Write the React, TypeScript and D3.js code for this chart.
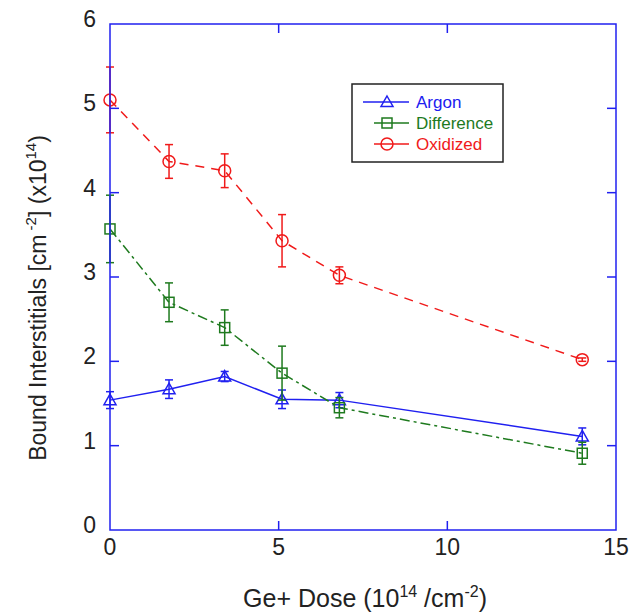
import * as d3 from 'd3'

// doses (10^14 /cm^2)
const doses = [0, 1.75, 3.4, 5.1, 6.8, 14]

const argon = [1.54, 1.67, 1.82, 1.55, 1.54, 1.11]
const argonErr = [0.1, 0.11, 0.06, 0.11, 0.09, 0.1]

const difference = [3.57, 2.7, 2.4, 1.86, 1.45, 0.91]
const differenceErr = [0.4, 0.23, 0.21, 0.32, 0.12, 0.13]

const oxidized = [5.1, 4.37, 4.26, 3.43, 3.02, 2.02]
const oxidizedErr = [0.39, 0.2, 0.2, 0.31, 0.1, 0.02]

const xTicks = [0, 5, 10, 15]
const yTicks = [0, 1, 2, 3, 4, 5, 6]

const BLUE = '#2020f0'
const GREEN = '#1e7a1e'
const RED = '#f01a1a'
const FONT = 'Liberation Sans, Arial, sans-serif'

type Series = {
  name: string
  values: number[]
  errors: number[]
  color: string
  dash: string
  marker: 'triangle' | 'square' | 'circle'
}

const series: Series[] = [
  { name: 'Argon', values: argon, errors: argonErr, color: BLUE, dash: 'none', marker: 'triangle' },
  { name: 'Difference', values: difference, errors: differenceErr, color: GREEN, dash: '10,4,3,4', marker: 'square' },
  { name: 'Oxidized', values: oxidized, errors: oxidizedErr, color: RED, dash: '9,7', marker: 'circle' },
]

function Marker({ kind, x, y, color }: { kind: string; x: number; y: number; color: string }) {
  if (kind === 'circle') return <circle cx={x} cy={y} r={6} fill="none" stroke={color} strokeWidth={1.5} />
  if (kind === 'square') return <rect x={x - 5} y={y - 5} width={10} height={10} fill="none" stroke={color} strokeWidth={1.5} />
  return <path d={`M${x},${y - 6} L${x + 6},${y + 4.5} L${x - 6},${y + 4.5} Z`} fill="none" stroke={color} strokeWidth={1.5} />
}

export default function App() {
  const width = 632
  const height = 615
  const m = { left: 110, top: 24, right: 616, bottom: 530 }

  const x = d3.scaleLinear().domain([0, 15]).range([m.left, m.right])
  const y = d3.scaleLinear().domain([0, 6]).range([m.bottom, m.top])

  const line = d3
    .line<number>()
    .x((_, i) => x(doses[i]))
    .y((d) => y(d))

  const tickLen = 9

  return (
    <svg width={width} height={height} style={{ position: 'absolute', left: 0, top: 0, background: '#fff' }} fontFamily={FONT}>
      {/* data */}
      {series.map((s) => (
        <g key={s.name}>
          <path d={line(s.values) || ''} fill="none" stroke={s.color} strokeWidth={1.5} strokeDasharray={s.dash} />
          {s.values.map((v, i) => {
            const cx = x(doses[i])
            const e = s.errors[i]
            return (
              <g key={i} stroke={s.color} strokeWidth={1.5}>
                <line x1={cx} x2={cx} y1={y(v + e)} y2={y(v - e)} />
                <line x1={cx - 4} x2={cx + 4} y1={y(v + e)} y2={y(v + e)} />
                <line x1={cx - 4} x2={cx + 4} y1={y(v - e)} y2={y(v - e)} />
              </g>
            )
          })}
          {s.values.map((v, i) => (
            <Marker key={'m' + i} kind={s.marker} x={x(doses[i])} y={y(v)} color={s.color} />
          ))}
        </g>
      ))}

      {/* frame + ticks */}
      <rect x={m.left} y={m.top} width={m.right - m.left} height={m.bottom - m.top} fill="none" stroke={BLUE} strokeWidth={1.5} />
      {yTicks.slice(1, -1).map((t) => (
        <g key={'yt' + t} stroke={BLUE} strokeWidth={1.5}>
          <line x1={m.left} x2={m.left + tickLen} y1={y(t)} y2={y(t)} />
          <line x1={m.right} x2={m.right - tickLen} y1={y(t)} y2={y(t)} />
        </g>
      ))}
      {xTicks.slice(1, -1).map((t) => (
        <g key={'xt' + t} stroke={BLUE} strokeWidth={1.5}>
          <line x1={x(t)} x2={x(t)} y1={m.bottom} y2={m.bottom - tickLen} />
          <line x1={x(t)} x2={x(t)} y1={m.top} y2={m.top + tickLen} />
        </g>
      ))}

      {/* tick labels */}
      {yTicks.map((t) => (
        <text key={'yl' + t} x={96} y={y(t) + 3} textAnchor="end" fontSize={23} fill="#222">
          {t}
        </text>
      ))}
      {xTicks.map((t) => (
        <text key={'xl' + t} x={x(t)} y={555} textAnchor="middle" fontSize={23} fill="#222">
          {t}
        </text>
      ))}

      {/* axis titles */}
      <text x={365} y={607} textAnchor="middle" fontSize={25} fill="#222">
        Ge+ Dose (10
        <tspan dy={-10} fontSize={16}>14</tspan>
        <tspan dy={10}> /cm</tspan>
        <tspan dy={-10} fontSize={16}>-2</tspan>
        <tspan dy={10}>)</tspan>
      </text>
      <text transform={`translate(46,298) rotate(-90)`} textAnchor="middle" fontSize={23} fill="#222">
        Bound Interstitials [cm
        <tspan dy={-10} fontSize={15}> -2</tspan>
        <tspan dy={10}>] (x10</tspan>
        <tspan dy={-10} fontSize={15}>14</tspan>
        <tspan dy={10}>)</tspan>
      </text>

      {/* legend */}
      <rect x={352} y={84} width={151} height={78} fill="#fff" stroke="#222" strokeWidth={1.5} />
      {series.map((s, i) => {
        const ly = 102 + i * 21
        const x1 = i === 0 ? 363 : 374
        return (
          <g key={'lg' + s.name}>
            <line x1={x1} x2={409} y1={ly} y2={ly} stroke={s.color} strokeWidth={1.5} />
            <Marker kind={s.marker} x={387} y={ly} color={s.color} />
            <text x={416} y={ly + 6} fontSize={17} fill={s.color}>
              {s.name}
            </text>
          </g>
        )
      })}
    </svg>
  )
}
